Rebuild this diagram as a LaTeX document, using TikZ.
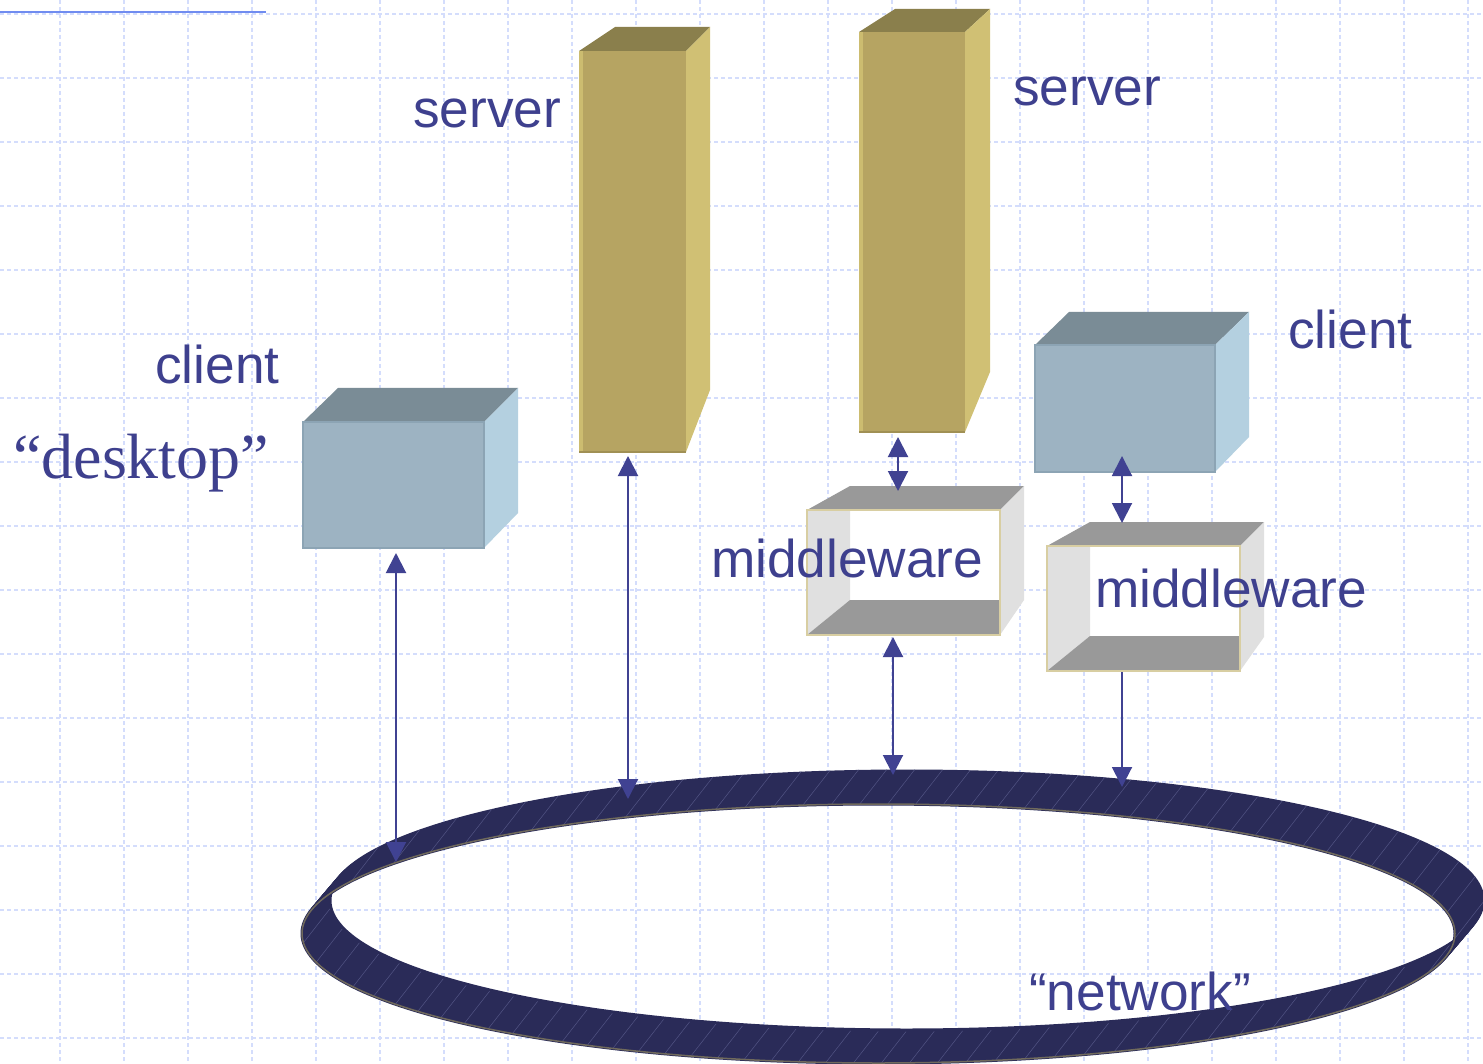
\documentclass[tikz,border=0pt]{standalone}
\usepackage{fontspec}
\setmainfont{Liberation Sans}
\newfontfamily\seriffont{Liberation Serif}
\usetikzlibrary{arrows.meta}
\definecolor{txtblue}{RGB}{62,64,142}
\definecolor{arrowblue}{RGB}{64,66,146}
\definecolor{gridblue}{RGB}{212,221,252}
\definecolor{topblue}{RGB}{112,140,240}
\definecolor{ringc}{RGB}{42,43,88}
\definecolor{ringhatch}{RGB}{82,84,132}
\definecolor{ringedge}{RGB}{112,106,92}
\definecolor{cfront}{RGB}{157,179,194}
\definecolor{ctop}{RGB}{122,140,150}
\definecolor{cside}{RGB}{180,208,224}
\definecolor{cedge}{RGB}{140,164,180}
\definecolor{sfront}{RGB}{182,164,98}
\definecolor{stop}{RGB}{138,127,76}
\definecolor{sside}{RGB}{208,192,116}
\definecolor{slight}{RGB}{204,188,112}
\definecolor{sdark}{RGB}{160,144,84}
\definecolor{mgray}{RGB}{153,153,153}
\definecolor{mlight}{RGB}{224,224,224}
\definecolor{mframe}{RGB}{216,206,162}
\begin{document}
\begin{tikzpicture}[x=1pt,y=-1pt,
  lbl/.style={anchor=base west,inner sep=0pt,text=txtblue,font=\fontsize{53.2}{54}\selectfont},
  link/.style={draw=arrowblue,line width=2pt},
  dbl/.style={link,{Triangle[length=20pt,width=20pt]}-{Triangle[length=20pt,width=20pt]}},
  sgl/.style={link,-{Triangle[length=20pt,width=20pt]}},
  gridline/.style={draw=gridblue,line width=1.5pt,dash pattern=on 4pt off 3pt},
  ringband/.style={draw=ringc,line width=3pt},
  ringhatchline/.style={draw=ringhatch,line width=0.5pt},
  mframeline/.style={draw=mframe,line width=2pt}
]
\useasboundingbox (0,0) rectangle (1483,1064);
\fill[white] (0,0) rectangle (1483,1064);
% grid
\foreach \gx in {60,124,...,1468} \draw[gridline] (\gx,0) -- (\gx,1064);
\foreach \gy in {14,78,...,1038} \draw[gridline] (0,\gy) -- (1483,\gy);
\draw[topblue,line width=2.2pt] (0,12) -- (266,12);

% network ring
\foreach \t in {0,...,24}
  \draw[ringband] ({906.5-28*\t/24},{900.5+33*\t/24}) ellipse [x radius=576.5pt, y radius=129.5pt];
\fill[ringc,even odd rule] (906.5,900.5) ellipse [x radius=576.5pt, y radius=129.5pt]
  (878.5,933.5) ellipse [x radius=576.5pt, y radius=129.5pt];
\begin{scope}[even odd rule]
  \clip (906.5,900.5) ellipse [x radius=578pt, y radius=131pt]
    (878.5,933.5) ellipse [x radius=576.5pt, y radius=129.5pt];
  \foreach \hx in {-300,-272,...,1500} \draw[ringhatchline] (\hx,1070) -- ++(250,-320);
\end{scope}
\draw[ringedge,line width=1.5pt] (878.5,933.5) ellipse [x radius=576.5pt, y radius=129.5pt];

% client 1
\fill[cfront] (303,422) rectangle (484,548);
\fill[ctop] (303,422) -- (338,388) -- (518,388) -- (484,422) -- cycle;
\fill[cside] (484,422) -- (518,388) -- (518,513) -- (484,548) -- cycle;
\draw[cedge,line width=1.5pt] (303,422) rectangle (484,548);
% client 2
\fill[cfront] (1035,345) rectangle (1215,472);
\fill[ctop] (1035,345) -- (1069,312) -- (1249,312) -- (1215,345) -- cycle;
\fill[cside] (1215,345) -- (1249,312) -- (1249,437) -- (1215,472) -- cycle;
\draw[cedge,line width=1.5pt] (1035,345) rectangle (1215,472);

% server 1
\fill[sfront] (579,51) rectangle (686,452);
\fill[stop] (579,51) -- (615,27) -- (710,27) -- (686,51) -- cycle;
\fill[sside] (686,51) -- (710,27) -- (710,390) -- (686,452) -- cycle;
\fill[slight] (579,51) rectangle (583,452);
\draw[sdark,line width=1.5pt] (579,452) -- (686,452);
% server 2
\fill[sfront] (859,32) rectangle (965,432);
\fill[stop] (859,32) -- (895,9) -- (990,9) -- (965,32) -- cycle;
\fill[sside] (965,32) -- (990,9) -- (990,372) -- (965,432) -- cycle;
\fill[slight] (859,32) rectangle (863,432);
\draw[sdark,line width=1.5pt] (859,432) -- (965,432);

% middleware 1
\fill[white] (807,510) rectangle (1000,635);
\fill[mgray] (807,510) -- (850,486) -- (1024,486) -- (1000,510) -- cycle;
\fill[mlight] (1000,510) -- (1024,486) -- (1024,600) -- (1000,635) -- cycle;
\fill[mlight] (807,510) -- (850,510) -- (850,600) -- (807,635) -- cycle;
\fill[mgray] (807,635) -- (850,600) -- (1000,600) -- (1000,635) -- cycle;
\draw[mframeline] (807,510) rectangle (1000,635);
% middleware 2
\fill[white] (1047,546) rectangle (1240,671);
\fill[mgray] (1047,546) -- (1090,522) -- (1264,522) -- (1240,546) -- cycle;
\fill[mlight] (1240,546) -- (1264,522) -- (1264,637) -- (1240,671) -- cycle;
\fill[mlight] (1047,546) -- (1090,546) -- (1090,636) -- (1047,671) -- cycle;
\fill[mgray] (1047,671) -- (1090,636) -- (1240,636) -- (1240,671) -- cycle;
\draw[mframeline] (1047,546) rectangle (1240,671);

% connector end points
\coordinate (deskTop) at (396,553);
\coordinate (deskNet) at (396,862);
\coordinate (srvTop) at (628,456);
\coordinate (srvNet) at (628,799);
\coordinate (srv2Bot) at (898,437);
\coordinate (mw1Top) at (898,491);
\coordinate (mw1Bot) at (893,637);
\coordinate (mw1Net) at (893,775);
\coordinate (cl2Bot) at (1122,456);
\coordinate (mw2Top) at (1122,523);
\coordinate (mw2Bot) at (1122,672);
\coordinate (mw2Net) at (1122,787);
\draw[dbl] (deskTop) -- (deskNet);
\draw[dbl] (srvTop) -- (srvNet);
\draw[dbl] (srv2Bot) -- (mw1Top);
\draw[dbl] (mw1Bot) -- (mw1Net);
\draw[dbl] (cl2Bot) -- (mw2Top);
\draw[sgl] (mw2Bot) -- (mw2Net);

% labels
\node[lbl] (srvA) at (413,128) {server};
\node[lbl] (srvB) at (1013,106) {server};
\node[lbl] (cliA) at (155,384) {client};
\node[lbl] (cliB) at (1288,349) {client};
\node[lbl,font=\seriffont\fontsize{64}{64}\selectfont] (desk) at (13,478) {“desktop”};
\node[lbl] (mwA) at (711,577) {middleware};
\node[lbl] (mwB) at (1095,607) {middleware};
\node[lbl] (net) at (1029,1010) {“network”};
\end{tikzpicture}
\end{document}
